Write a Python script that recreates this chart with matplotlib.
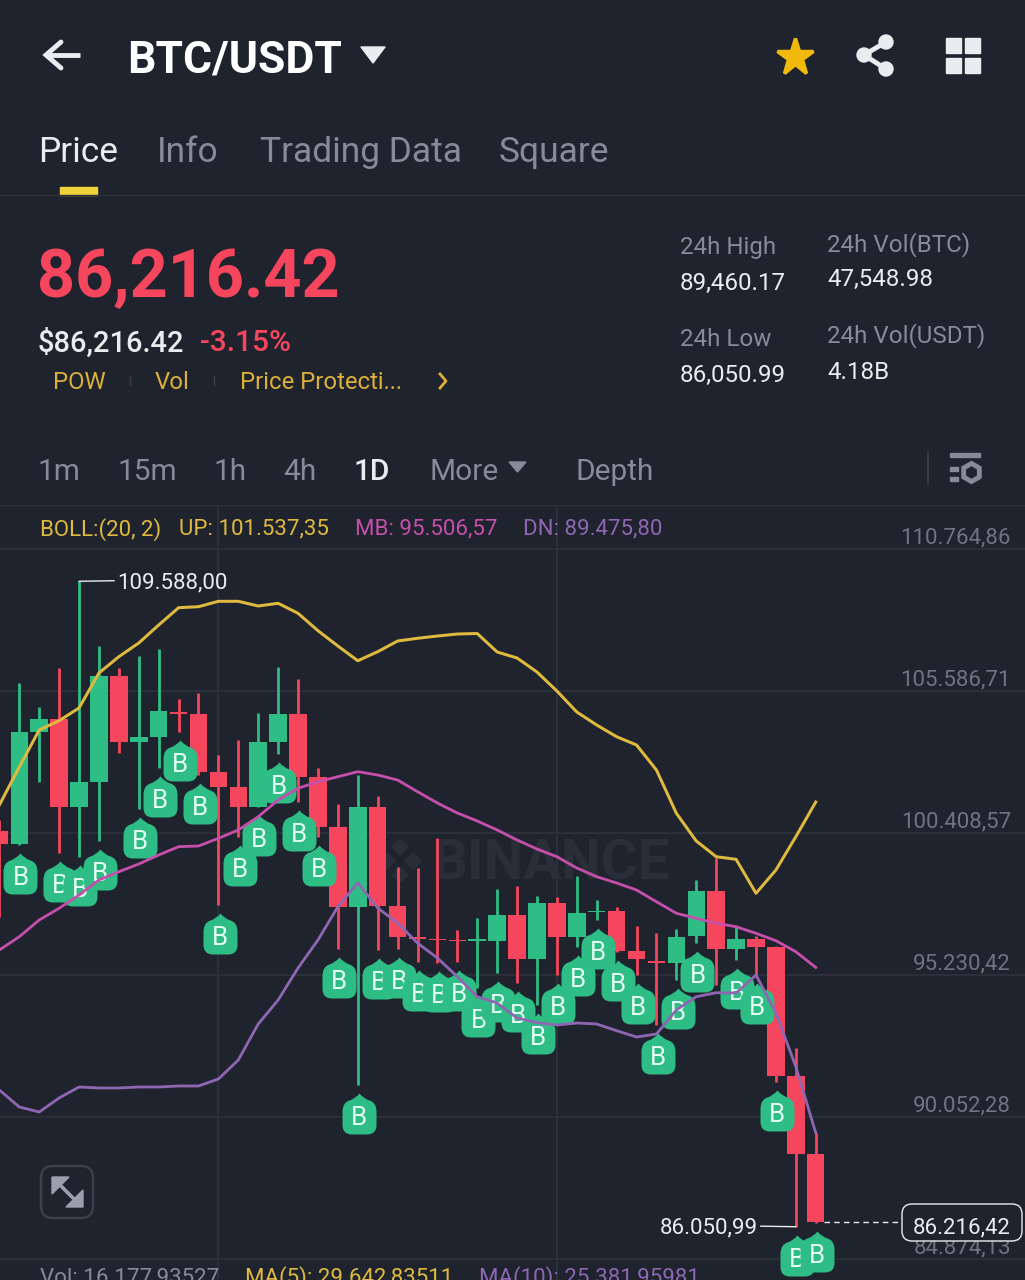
import matplotlib
matplotlib.use("Agg")
import matplotlib.pyplot as plt
from matplotlib.path import Path
from matplotlib.patches import FancyBboxPatch, Polygon, Circle, Rectangle
from matplotlib.transforms import ScaledTranslation

# ---------- data ----------
candle_idx = list(range(-1, 41))
opens = [100492, 99997, 104081, 104566, 101346, 102279, 106145, 103716, 103920, 104832, 104748,
         102633, 102075, 101346, 103738, 104737, 102440, 100638, 97721, 101346, 97758,
         96605, 96554, 96507, 96470, 96481, 97418, 95803, 97845, 96627, 97539,
         97564, 96106, 95752, 95679, 96653, 98304, 96189, 96532, 96262, 91547, 88692]
closes = [100007, 104081, 104566, 101346, 102268, 106145, 103716, 103920, 104868, 104748, 102633,
          102075, 101346, 103738, 104737, 102440, 100638, 97721, 101346, 97758, 96627,
          96532, 96507, 96470, 96532, 97418, 95803, 97845, 96627, 97502, 97575,
          96117, 95803, 95679, 96627, 98304, 96189, 96532, 96262, 91547, 88692, 86216.42]
highs = [100883, 105878, 105014, 106436, 109588, 107239, 106425, 106863, 107118, 105295, 105503,
         103253, 103800, 104795, 106473, 106024, 102779, 101466, 102524, 101758, 99180,
         99132, 100226, 96871, 97298, 98355, 98476, 98111, 98064, 98840, 97965,
         97699, 97028, 96751, 96897, 98695, 99486, 96970, 96653, 96288, 92557, 89458]
lows = [97345, 99971, 102279, 99668, 99544, 100117, 103337, 101273, 102768, 104103, 102524,
        97783, 100274, 101346, 103289, 101550, 100274, 96167, 91219, 96142, 96179,
        95715, 95679, 95715, 94745, 95292, 94928, 94136, 95230, 96262, 97236,
        96080, 95230, 93407, 95048, 96408, 94866, 95777, 95230, 91339, 86050.99, 86187]
boll_up = [101430, 102815, 104165, 104504, 104967, 106243, 106838, 107337, 107993, 108624, 108661,
           108858, 108858, 108686, 108785, 108420, 107786, 107228, 106691, 107020, 107410,
           107509, 107592, 107665, 107684, 107009, 106790, 106280, 105587, 104821, 104347,
           103920, 103618, 102706, 101127, 100117, 99544, 99449, 98210, 99059, 100274, 101537.35]
boll_mb = [96142, 96627, 97236, 97663, 98148, 98695, 98997, 99278, 99606, 99909, 99934,
           100215, 100518, 101003, 101612, 102039, 102279, 102461, 102644, 102524, 102341,
           101915, 101502, 101138, 100846, 100518, 100153, 99825, 99544, 99132, 98815,
           98585, 98330, 97903, 97480, 97298, 97116, 96992, 96751, 96481, 96080, 95506.57]
boll_dn = [91037, 90417, 90235, 90745, 91146, 91110, 91110, 91146, 91146, 91183, 91183,
           91438, 92131, 93444, 94319, 95486, 96507, 97721, 98596, 97674, 97127,
           96397, 95850, 95168, 94439, 94209, 93662, 93491, 93407, 93480, 93444,
           93199, 92969, 93079, 93954, 94439, 94585, 94574, 95230, 93845, 91886, 89475.80]
no_buy = [-1, 1, 5, 35]
axis_values = [110764.86, 105586.71, 100408.57, 95230.42, 90052.28, 84874.13]
axis_labels = ["110.764,86", "105.586,71", "100.408,57", "95.230,42", "90.052,28", "84.874,13"]
vgrid_idx = [10, 27]
tabs = ["Price", "Info", "Trading Data", "Square"]
intervals = ["1m", "15m", "1h", "4h", "1D", "More", "Depth"]

BG = "#1E232E"; GRID = "#2B303B"; GREEN = "#2EBD85"; RED = "#F6465D"
GOLD = "#E0BA3E"; PINK = "#C64FAC"; PURPLE = "#8E66B2"
GRAY = "#848C99"; AXG = "#6E7480"; WHITE = "#EAECEF"
W, H = 1025, 1280
FONT = "Roboto"
plt.rcParams["font.family"] = [FONT, "DejaVu Sans"]
PT = 0.72

fig = plt.figure(figsize=(W / 100, H / 100), dpi=100, facecolor=BG)

def pix_ax(z):
    a = fig.add_axes([0, 0, 1, 1], zorder=z)
    a.set_xlim(0, W); a.set_ylim(H, 0); a.axis("off"); a.patch.set_alpha(0)
    return a

back = pix_ax(0)
ui = pix_ax(2)

# watermark
back.text(431, 865, "BINANCE", fontsize=40.5, fontweight="bold", color="#292E39", va="center", ha="left")
for cx, cy in [(400, 847), (387, 861), (413, 861), (400, 875)]:
    back.add_patch(Polygon([(cx, cy - 8), (cx + 8, cy), (cx, cy + 8), (cx - 8, cy)], color="#292E39"))

# ---------- chart ----------
top_px = 507
ax = fig.add_axes([0, 0, 1, (H - top_px) / H], zorder=1)
ax.patch.set_alpha(0)
ax.set_xlim(-0.969, 50.51)
ax.set_ylim(84108.3, 112296.6)
for s in ax.spines.values():
    s.set_visible(False)
ax.set_yticks(axis_values)
ax.set_xticks(vgrid_idx)
ax.tick_params(length=0, labelleft=False, labelbottom=False)
ax.grid(True, color=GRID, lw=1.4)
ax.set_axisbelow(True)

colors = [GREEN if c >= o else RED for o, c in zip(opens, closes)]
ax.vlines(candle_idx, lows, highs, colors=colors, lw=2.8 * PT, zorder=2)
ax.bar(candle_idx, [abs(c - o) for o, c in zip(opens, closes)],
       bottom=[min(o, c) for o, c in zip(opens, closes)], width=0.88, color=colors, zorder=2.5)

# buy markers hanging below the candle lows
s_px = 9.5
marker = Path(
    [(-17, -16 + s_px), (-17, -16), (-17 + s_px, -16), (17 - s_px, -16), (17, -16), (17, -16 + s_px),
     (17, 16 - s_px), (17, 16), (10, 18), (4, 20), (0, 25), (-4, 20), (-10, 18), (-17, 16), (-17, 16 - s_px),
     (-17, -16 + s_px)],
    [Path.MOVETO, Path.CURVE3, Path.CURVE3, Path.LINETO, Path.CURVE3, Path.CURVE3,
     Path.LINETO, Path.CURVE3, Path.CURVE3, Path.CURVE3, Path.CURVE3, Path.CURVE3, Path.CURVE3, Path.CURVE3, Path.CURVE3,
     Path.CLOSEPOLY])
trans = ax.transData + ScaledTranslation(1.2 / 100, -33 / 100, fig.dpi_scale_trans)
k = 0
for i, lo in zip(candle_idx, lows):
    if i in no_buy:
        continue
    ax.scatter([i], [lo], marker=marker, s=(50 * PT) ** 2, color=GREEN, linewidths=0,
               transform=trans, zorder=3 + k * 0.01, clip_on=False)
    ax.text(i, lo, "B", transform=trans, fontsize=18.5, color="#E6FFF4", ha="center", va="center",
            zorder=3.005 + k * 0.01)
    k += 1

ax.plot(candle_idx, boll_up, color=GOLD, lw=3 * PT, zorder=5)
ax.plot(candle_idx, boll_mb, color=PINK, lw=2.8 * PT, zorder=5)
ax.plot(candle_idx, boll_dn, color=PURPLE, lw=2.8 * PT, zorder=5)

# y axis labels above their grid lines
ytrans = ax.get_yaxis_transform()
for v, lab in zip(axis_values, axis_labels):
    ax.annotate(lab, xy=(1, v), xycoords=ytrans, xytext=(-14 * PT, 11.5 * PT), textcoords="offset points",
                ha="right", va="center", fontsize=16, color=AXG, zorder=1)

# extreme labels
hi = max(highs); hi_i = candle_idx[highs.index(hi)]
lo = min(lows); lo_i = candle_idx[lows.index(lo)]
ax.annotate("109.588,00", xy=(hi_i, hi), xytext=(38 * PT, -1.5 * PT), textcoords="offset points", ha="left", va="center",
            fontsize=16, color=WHITE, zorder=6,
            arrowprops=dict(arrowstyle="-", color=WHITE, lw=1.0, shrinkA=0, shrinkB=0, relpos=(0, 0.6)))
ax.annotate("86.050,99", xy=(lo_i, lo), xytext=(-38 * PT, -1.5 * PT), textcoords="offset points", ha="right", va="center",
            fontsize=16, color=WHITE, zorder=6,
            arrowprops=dict(arrowstyle="-", color=WHITE, lw=1.0, shrinkA=0, shrinkB=0, relpos=(1, 0.6)))
# last price line
ax.plot([candle_idx[-1] + 0.44, 44.3], [closes[-1]] * 2, color=WHITE, lw=1.0, ls=(0, (4, 3)), zorder=6)

# ---------- UI ----------
def t(x, y, s, size, color, weight="normal", ha="left"):
    return ui.text(x, y, s, fontsize=size, color=color, fontweight=weight, ha=ha, va="center_baseline")

# last price box
ui.add_patch(FancyBboxPatch((902, 1204), 120, 37, boxstyle="round,pad=0,rounding_size=10",
                            fc=BG, ec=WHITE, lw=1.0))
t(962, 1225.5, "86.216,42", 16, WHITE, ha="center")

# header
t(127, 56, "BTC/USDT", 32, "white", "bold")
ui.add_patch(Polygon([(361, 47), (385, 47), (373, 63)], color=WHITE, joinstyle="round"))
ui.plot([80, 46], [55, 55], color=WHITE, lw=3.5, solid_capstyle="butt")
ui.plot([61, 46, 61], [42, 55, 68], color=WHITE, lw=3.5, solid_joinstyle="miter", solid_capstyle="round")
# star
ui.plot([795], [57], marker="*", ms=28, color="#F0B90B", mec="#F0B90B", mew=2.5, mfc="#F0B90B", ls="")
# share
ui.plot([886, 864, 886], [42, 55, 69], color=WHITE, lw=3.5)
for c in [(886, 42), (864, 55), (886, 69)]:
    ui.add_patch(Circle(c, 7, color=WHITE))
# grid icon
for x0, y0 in [(946, 38), (965, 38), (946, 58), (965, 58)]:
    ui.add_patch(Rectangle((x0, y0), 15, 15, color=WHITE))

# tabs
for lab, x, col in zip(tabs, [38, 157, 260, 499], [WHITE, GRAY, GRAY, GRAY]):
    t(x, 149, lab, 25.5, col)
ui.add_patch(Rectangle((60, 187), 37, 8, color="#F0D23C"))
ui.plot([0, W], [195, 195], color=GRID, lw=1)

# price block
t(37, 272, "86,216.42", 48, RED, "bold")
t(38, 340, "$86,216.42", 21, WHITE, "medium")
t(200, 340, "-3.15%", 21.5, RED, "medium")
for lab, x in [("POW", 53), ("Vol", 155), ("Price Protecti...", 240)]:
    t(x, 380, lab, 17.2, "#DDB03A")
for x in [130, 214]:
    ui.plot([x, x], [376, 385], color="#3A3F4A", lw=1)
ui.plot([440, 446, 440], [374, 381, 388], color="#DDB03A", lw=2)
for x, y, s, c in [(680, 245, "24h High", GRAY), (680, 281, "89,460.17", WHITE),
                   (827, 242, "24h Vol(BTC)", GRAY), (827, 277, "47,548.98", WHITE),
                   (680, 337, "24h Low", GRAY), (680, 373, "86,050.99", WHITE),
                   (827, 333, "24h Vol(USDT)", GRAY), (827, 370, "4.18B", WHITE)]:
    t(x, y, s, 17.4, c)

# interval row
for lab, x in zip(intervals, [38, 118, 214, 283, 354, 429, 575]):
    if lab == "1D":
        t(x, 469, lab, 21.5, WHITE, "medium")
    else:
        t(x, 469, lab, 21.5, GRAY)
ui.add_patch(Polygon([(509, 462), (526, 462), (517.5, 472)], color=GRAY))
ui.plot([928, 928], [452, 484], color="#3A3F4A", lw=1.2)
ui.add_patch(Rectangle((950, 453), 30, 4, color=GRAY))
ui.add_patch(Rectangle((950, 467), 8, 4, color=GRAY))
ui.add_patch(Rectangle((950, 477), 8, 4, color=GRAY))
ui.plot([971], [472], marker="h", ms=13, mfc=BG, mec=GRAY, mew=3.5, ls="")
ui.plot([0, W], [506, 506], color=GRID, lw=1.2)

# BOLL legend
t(40, 526.5, "BOLL:(20, 2)", 16, GOLD)
t(179, 526.5, "UP: 101.537,35", 16, GOLD)
t(355, 526.5, "MB: 95.506,57", 16, PINK)
t(523, 526.5, "DN: 89.475,80", 16, PURPLE)

# expand button
ui.add_patch(FancyBboxPatch((41, 1166), 52, 52, boxstyle="round,pad=0,rounding_size=12", fc="none", ec="#3A3F4A", lw=1.8))
ui.plot([56, 79], [1181, 1204], color="#9AA0AB", lw=2.6)
ui.add_patch(Polygon([(52, 1177), (69, 1177), (52, 1194)], color="#9AA0AB"))
ui.add_patch(Polygon([(83, 1207), (66, 1207), (83, 1190)], color="#9AA0AB"))

# volume legend
t(40, 1275, "Vol: 16.177,93527", 16, GRAY)
t(245, 1275, "MA(5): 29.642,83511", 16, GOLD)
t(479, 1275, "MA(10): 25.381,95981", 16, PURPLE)

fig.savefig("out.png", dpi=100, facecolor=BG)
